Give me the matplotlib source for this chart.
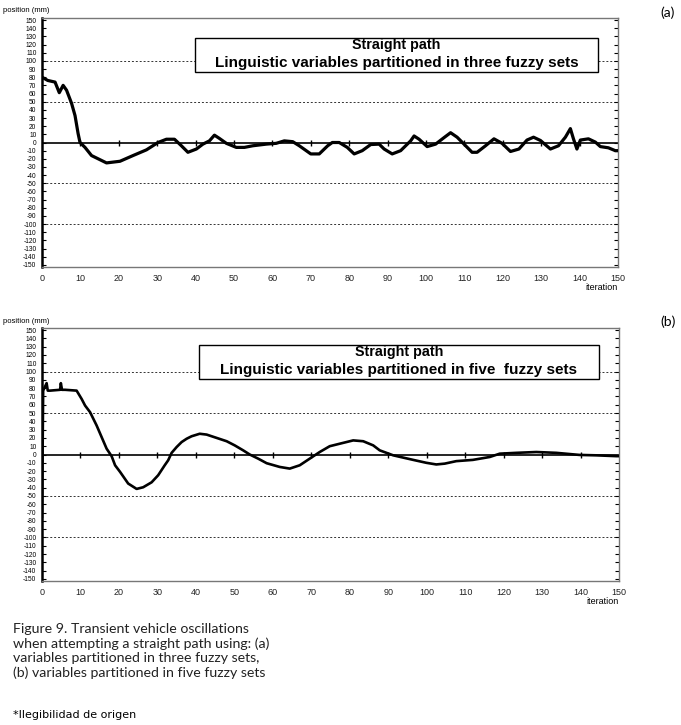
import numpy as np
import matplotlib
matplotlib.use("Agg")
import matplotlib.pyplot as plt
from matplotlib.patches import Rectangle

plt.rcParams['axes.unicode_minus'] = False
plt.rcParams['font.family'] = ['Liberation Sans', 'DejaVu Sans']

# (a) three fuzzy sets
iter_a = [0, 1.5, 3.4, 4.5, 5.5, 6.4, 7.7, 8.6, 9.4, 9.9,
          11.2, 12.9, 16.8, 20.3, 23.7, 27.2, 30.2, 32.4, 34.5, 36.3,
          38, 40.2, 41.9, 43.6, 44.9, 46.2, 48, 50.6, 52.7, 54.9,
          58.4, 61, 63.1, 65.3, 67, 70, 72.2, 74.4, 75.6, 77.4,
          79.5, 81.3, 83.4, 85.6, 87.8, 89.1, 91.2, 93.4, 96, 96.9,
          98.2, 100.3, 102.5, 104.7, 106.4, 108.1, 109.9, 112, 113.3, 115.5,
          117.7, 119.8, 122, 124.2, 126.3, 128, 129.8, 132.4, 134.5, 136.3,
          137.6, 138.4, 139.3, 140.2, 142.3, 144.1, 145.4, 147.5, 149.3, 150]
pos_a = [80, 76, 74, 61, 70, 64, 48, 33, 11, 0,
         -6, -16, -25, -23, -16, -9, 0, 4, 4, -4,
         -12, -8, -2, 2, 9, 5, -1, -6, -6, -4,
         -2, -1, 2, 1, -4, -14, -14, -4, 0, 0,
         -6, -14, -10, -2.5, -2, -8, -14, -10, 2, 8,
         4, -5, -2, 6, 12, 6.5, -2, -12, -12, -4,
         4.5, -1, -11, -8, 3, 6.5, 2.5, -8, -4, 6.5,
         17, 4.5, -8, 3, 4.5, 0.5, -5, -6.5, -10, -10]

# (b) five fuzzy sets
iter_b = [0, 0.3, 1.2, 1.5, 2.1, 4.7, 4.9, 5.2, 6, 9,
          10.3, 11.2, 12.5, 14.2, 15.5, 16.8, 18.1, 19, 20.3, 22.4,
          24.6, 26.3, 28.5, 30.2, 31.9, 32.8, 33.7, 35, 36.3, 37.6,
          38.9, 41, 42.8, 45.4, 48, 50.1, 52.3, 54, 56.2, 58.4,
          61.8, 64.4, 67, 69.6, 72.2, 74.8, 77.4, 80.9, 83.5, 86.1,
          87.8, 91.3, 96.5, 99.9, 102.5, 104.7, 107.7, 112, 116.4, 119,
          123.3, 128.5, 133.7, 139.7, 144.1, 149.3, 150]
pos_b = [-75, 77, 86, 77, 77, 78, 86, 78, 78, 77,
         67, 59, 51, 35, 21, 7, -2, -13, -21, -35,
         -41.5, -39.5, -33.5, -25, -13, -7, 2, 9, 15, 19,
         22, 25, 24, 20, 16, 11, 5, 0, -5, -10.5,
         -15, -17, -13, -5, 3, 10, 13, 17, 16, 11,
         5, -1, -6.5, -10, -12, -11, -8, -6.5, -3, 1,
         2, 3, 2, -0.5, -1, -2, -2]

y_ticks = list(range(-150, 151, 10))
x_ticks = list(range(0, 151, 10))
zero_marks = list(range(10, 150, 10))
dotted_levels = [-100, -50, 50, 100]

W, H = 681, 725
fig = plt.figure(figsize=(W / 100, H / 100), dpi=100)


def px_box(l, t, r, b):
    return [l / W, 1 - b / H, (r - l) / W, (b - t) / H]


def panel(rect, xs, ys, lw, subtitle, letter, letter_y, label_y, box):
    ax = fig.add_axes(rect)
    ax.set_xlim(0, 150)
    ax.set_ylim(-152.5, 152.5)
    for lv in dotted_levels:
        ax.axhline(lv, color='#333333', lw=0.7, ls=(0, (2, 2)), zorder=1)
    ax.axhline(0, color='black', lw=1.2, zorder=2)
    ax.plot(zero_marks, [0] * len(zero_marks), ls='none', marker='|',
            ms=5, mew=1, color='black', zorder=2)
    ax.plot(xs, ys, color='black', lw=lw, zorder=3)

    ax.set_yticks(y_ticks)
    ax.set_xticks(x_ticks)
    ax.tick_params(axis='y', which='both', direction='in', length=3,
                   labelsize=4.8, pad=4, left=True, right=True)
    ax.tick_params(axis='x', length=0, labelsize=6.5, pad=5, colors='#222222')
    for s in ['top', 'right', 'bottom']:
        ax.spines[s].set_color('#777777')
        ax.spines[s].set_linewidth(1)
    ax.spines['left'].set_linewidth(1.8)

    x0, y0, x1, y1, ty1, ty2 = box
    ax.add_patch(Rectangle((x0, y1), x1 - x0, y0 - y1, transform=ax.transAxes,
                           facecolor='white', edgecolor='black', lw=1, zorder=4))
    cx = (x0 + x1) / 2
    ax.text(cx, ty1, 'Straight path', transform=ax.transAxes, ha='center',
            va='center', fontsize=10.3, fontweight='bold', zorder=5)
    ax.text(cx, ty2, subtitle, transform=ax.transAxes, ha='center',
            va='center', fontsize=11, fontweight='bold', zorder=5)

    fig.text(3 / W, 1 - label_y / H, 'position (mm)', ha='left',
             va='center', fontsize=5.5)
    ax.text(1, -0.065, 'iteration', transform=ax.transAxes, ha='right',
            va='top', fontsize=6.5)
    fig.text(668 / W, 1 - letter_y / H, letter, ha='center', va='center',
             fontsize=10, family='Lato')
    return ax


panel(px_box(42, 18, 618, 267), iter_a, pos_a, 2.3,
      'Linguistic variables partitioned in three fuzzy sets', '(a)', 13, 11,
      (0.266, 0.92, 0.965, 0.783, 0.892, 0.82))
panel(px_box(42, 328, 619, 581), iter_b, pos_b, 1.9,
      'Linguistic variables partitioned in five  fuzzy sets', '(b)', 322, 321,
      (0.272, 0.933, 0.965, 0.798, 0.905, 0.835))

caption = ["Figure 9. Transient vehicle oscillations",
           "when attempting a straight path using: (a)",
           "variables partitioned in three fuzzy sets,",
           "(b) variables partitioned in five fuzzy sets"]
for i, line in enumerate(caption):
    fig.text(13 / W, 1 - (629 + 14.7 * i) / H, line, ha='left', va='center',
             fontsize=10.2, family='Lato', color='#222222')
fig.text(13 / W, 1 - 715 / H, '*Ilegibilidad de origen', ha='left',
         va='center', fontsize=8, family='DejaVu Sans')

fig.savefig('out.png', dpi=100)
